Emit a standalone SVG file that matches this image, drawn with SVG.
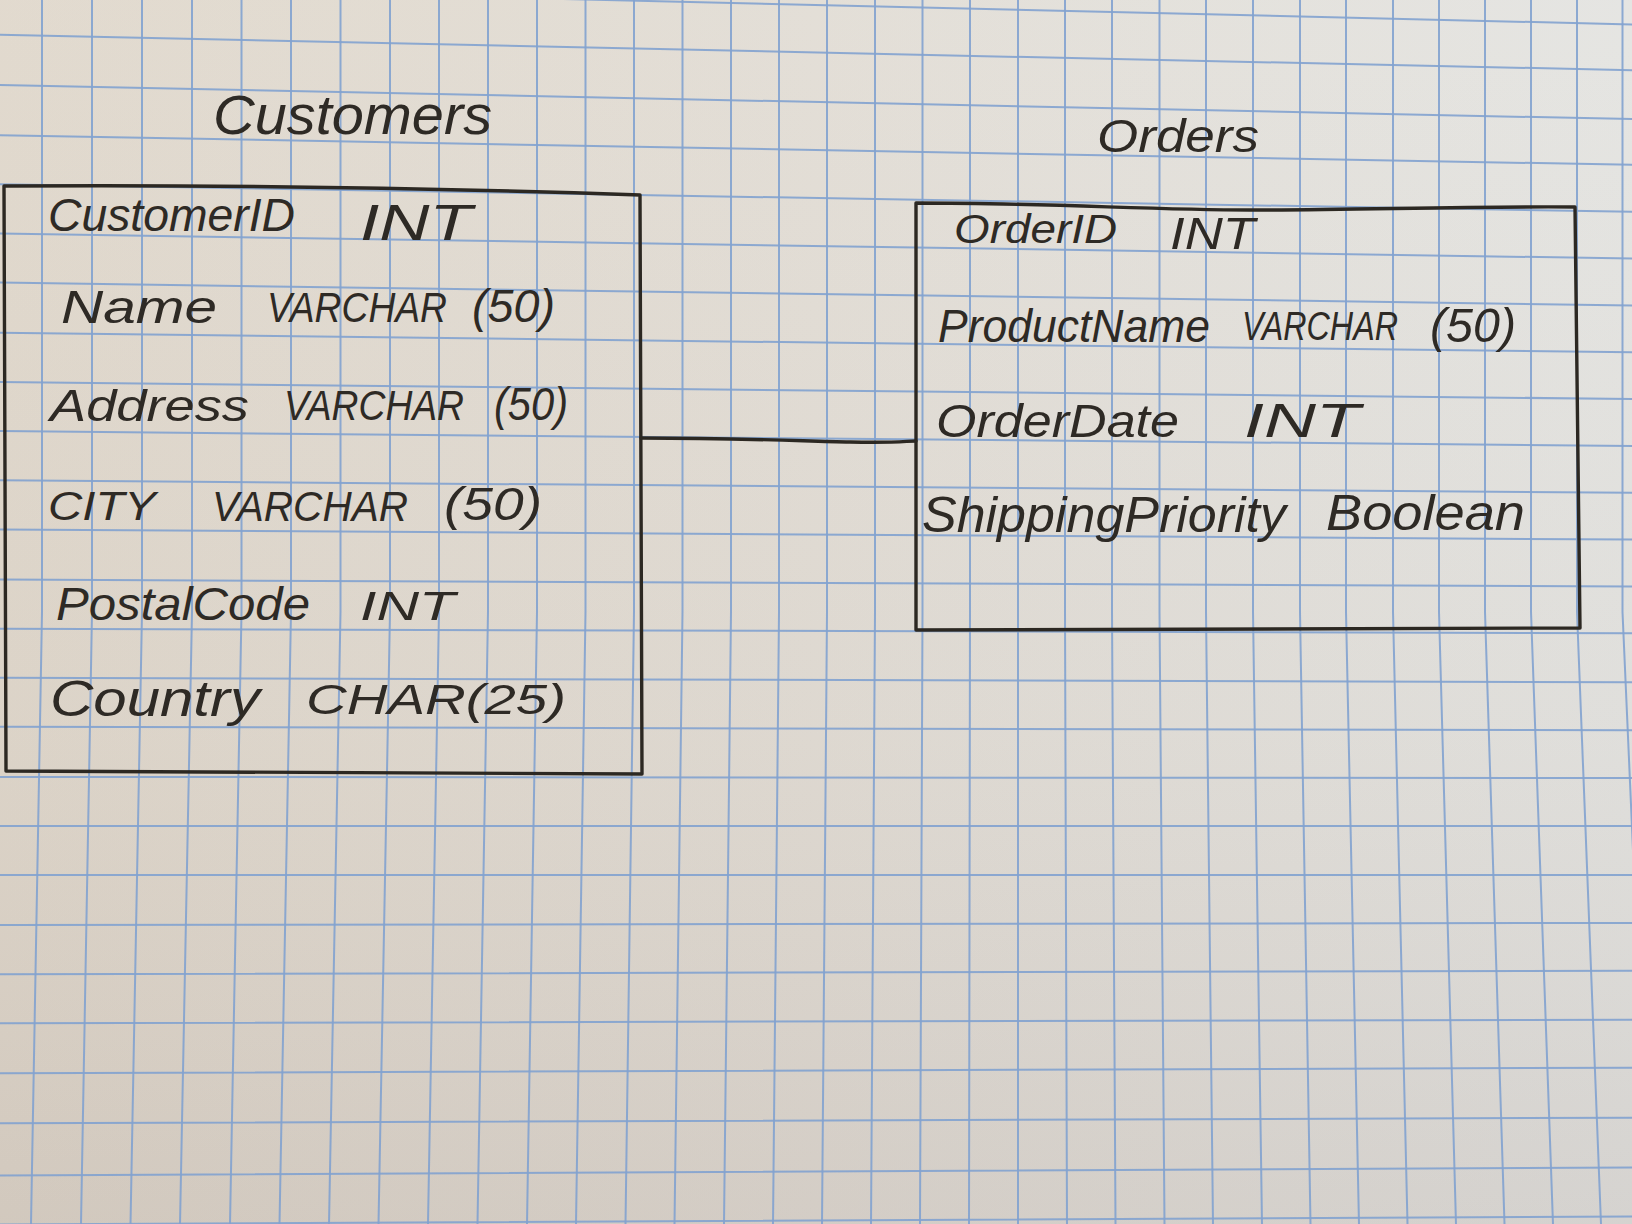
<svg xmlns="http://www.w3.org/2000/svg" width="1632" height="1224" viewBox="0 0 1632 1224">
<defs>
<linearGradient id="paperH" x1="0" y1="0" x2="1" y2="0">
<stop offset="0" stop-color="#e0d8cc"/>
<stop offset="0.5" stop-color="#e2ddd5"/>
<stop offset="1" stop-color="#e4e4e1"/>
</linearGradient>
<linearGradient id="paperV" x1="0" y1="0" x2="0" y2="1">
<stop offset="0" stop-color="#ffffff" stop-opacity="0.05"/>
<stop offset="0.6" stop-color="#8a7a74" stop-opacity="0.05"/>
<stop offset="1" stop-color="#7a6a66" stop-opacity="0.14"/>
</linearGradient>
<style>
.grid{fill:none;stroke:#82a2cf;stroke-width:2;stroke-linecap:round;opacity:0.9}
.pen{fill:none;stroke:#2c2822;stroke-width:3.4;stroke-linecap:round;stroke-linejoin:round}
.hw{font-family:"Liberation Sans","DejaVu Sans",sans-serif;font-style:italic;fill:#2e2a25}
</style>
</defs>
<g id="paper">
<rect x="0" y="0" width="1632" height="1224" fill="url(#paperH)"/>
<rect x="0" y="0" width="1632" height="1224" fill="url(#paperV)"/>
<path class="grid" d="M42,0 L42,612 L31,1224 M92,0 L92,612 L81,1224 M142,0 L142,612 L130.5,1224 M192,0 L192,612 L180,1224 M241.5,0 L241.5,612 L230,1224 M291,0 L291,612 L279.5,1224 M340.5,0 L340.5,612 L329,1224 M390,0 L390,612 L378.5,1224 M439,0 L439,612 L428,1224 M488,0 L488,612 L477.5,1224 M537,0 L537,612 L527,1224 M585.5,0 L585.5,612 L576,1224 M634,0 L634,612 L625.5,1224 M682.5,0 L682.5,612 L674.5,1224 M731,0 L731,612 L724,1224 M779,0 L779,612 L773,1224 M827,0 L827,612 L822,1224 M875,0 L875,612 L871,1224 M922.5,0 L922.5,612 L920,1224 M970,0 L970,612 L969,1224 M1018,0 L1018,612 L1018,1224 M1065,0 L1065,612 L1067,1224 M1112,0 L1112,612 L1115.5,1224 M1159.5,0 L1159.5,612 L1164.5,1224 M1206,0 L1206,612 L1213,1224 M1253,0 L1253,612 L1262,1224 M1300,0 L1300,612 L1310.5,1224 M1346,0 L1346,612 L1359,1224 M1393,0 L1393,612 L1407.5,1224 M1439,0 L1439,612 L1456,1224 M1485,0 L1485,612 L1504.5,1224 M1531,0 L1531,612 L1553,1224 M1577,0 L1577,612 L1601,1224 M1622.5,0 L1622.5,612 L1649.5,1224"/>
<path class="grid" d="M0,-14.4 L1632,24.4 M0,34.8 L1632,70.2 M0,84.9 L1632,119.1 M0,135.2 L1632,164.8 M0,184.3 L1632,211.7 M0,233.5 L1632,258.5 M0,282.6 L1632,305.4 M0,332.8 L1632,352.2 M0,382 L1632,399 M0,431.1 L1632,445.9 M0,480.2 L1632,492.8 M0,529.4 L1632,539.6 M0,579.6 L1632,586.4 M0,628.7 L1632,633.3 M0,677.7 L1632,682.3 M0,726.8 L1632,730.2 M0,776.9 L1632,778.1 M0,826 L1632,826 M0,875 L1632,875 M0,925.1 L1632,922.9 M0,974.2 L1632,970.8 M0,1023.2 L1632,1019.8 M0,1073.3 L1632,1067.7 M0,1123.3 L1632,1117.7 M0,1175.5 L1632,1167.5 M0,1224.5 L1632,1216.5"/>
</g>
<g id="connectors">
<path class="pen" d="M641,438 C740,438 800,441 850,442 S905,441 916,441"/>
</g>
<g id="customers">
<path class="pen" d="M4,186 Q320,184 640,195 L642,774 M4,186 L6,771 L642,774"/>
<text class="hw" x="213" y="134" font-size="56" textLength="279" lengthAdjust="spacingAndGlyphs">Customers</text>
<text class="hw" x="48" y="231" font-size="46" textLength="247" lengthAdjust="spacingAndGlyphs">CustomerID</text>
<text class="hw" x="360" y="240" font-size="50" textLength="112" lengthAdjust="spacingAndGlyphs">INT</text>
<text class="hw" x="61" y="323" font-size="46" textLength="156" lengthAdjust="spacingAndGlyphs">Name</text>
<text class="hw" x="267" y="322" font-size="42" textLength="180" lengthAdjust="spacingAndGlyphs">VARCHAR</text>
<text class="hw" x="472" y="322" font-size="46" textLength="83" lengthAdjust="spacingAndGlyphs">(50)</text>
<text class="hw" x="50" y="421" font-size="44" textLength="199" lengthAdjust="spacingAndGlyphs">Address</text>
<text class="hw" x="284" y="420" font-size="42" textLength="180" lengthAdjust="spacingAndGlyphs">VARCHAR</text>
<text class="hw" x="494" y="420" font-size="46" textLength="74" lengthAdjust="spacingAndGlyphs">(50)</text>
<text class="hw" x="48" y="520" font-size="40" textLength="108" lengthAdjust="spacingAndGlyphs">CITY</text>
<text class="hw" x="212" y="521" font-size="42" textLength="196" lengthAdjust="spacingAndGlyphs">VARCHAR</text>
<text class="hw" x="444" y="520" font-size="46" textLength="98" lengthAdjust="spacingAndGlyphs">(50)</text>
<text class="hw" x="56" y="620" font-size="46" textLength="254" lengthAdjust="spacingAndGlyphs">PostalCode</text>
<text class="hw" x="360" y="620" font-size="40" textLength="95" lengthAdjust="spacingAndGlyphs">INT</text>
<text class="hw" x="50" y="716" font-size="50" textLength="210" lengthAdjust="spacingAndGlyphs">Country</text>
<text class="hw" x="306" y="714" font-size="42" textLength="260" lengthAdjust="spacingAndGlyphs">CHAR(25)</text>
</g>
<g id="orders">
<path class="pen" d="M916,203 C1050,203 1150,210 1250,210 S1480,206 1575,207 L1580,628 M916,203 L916,630 L1580,628"/>
<text class="hw" x="1097" y="152" font-size="46" textLength="162" lengthAdjust="spacingAndGlyphs">Orders</text>
<text class="hw" x="954" y="243" font-size="40" textLength="163" lengthAdjust="spacingAndGlyphs">OrderID</text>
<text class="hw" x="1170" y="249" font-size="44" textLength="85" lengthAdjust="spacingAndGlyphs">INT</text>
<text class="hw" x="938" y="342" font-size="46" textLength="272" lengthAdjust="spacingAndGlyphs">ProductName</text>
<text class="hw" x="1242" y="340" font-size="40" textLength="156" lengthAdjust="spacingAndGlyphs">VARCHAR</text>
<text class="hw" x="1430" y="342" font-size="48" textLength="86" lengthAdjust="spacingAndGlyphs">(50)</text>
<text class="hw" x="936" y="437" font-size="46" textLength="243" lengthAdjust="spacingAndGlyphs">OrderDate</text>
<text class="hw" x="1244" y="437" font-size="48" textLength="116" lengthAdjust="spacingAndGlyphs">INT</text>
<text class="hw" x="922" y="532" font-size="50" textLength="364" lengthAdjust="spacingAndGlyphs">ShippingPriority</text>
<text class="hw" x="1326" y="530" font-size="50" textLength="199" lengthAdjust="spacingAndGlyphs">Boolean</text>
</g>
</svg>
